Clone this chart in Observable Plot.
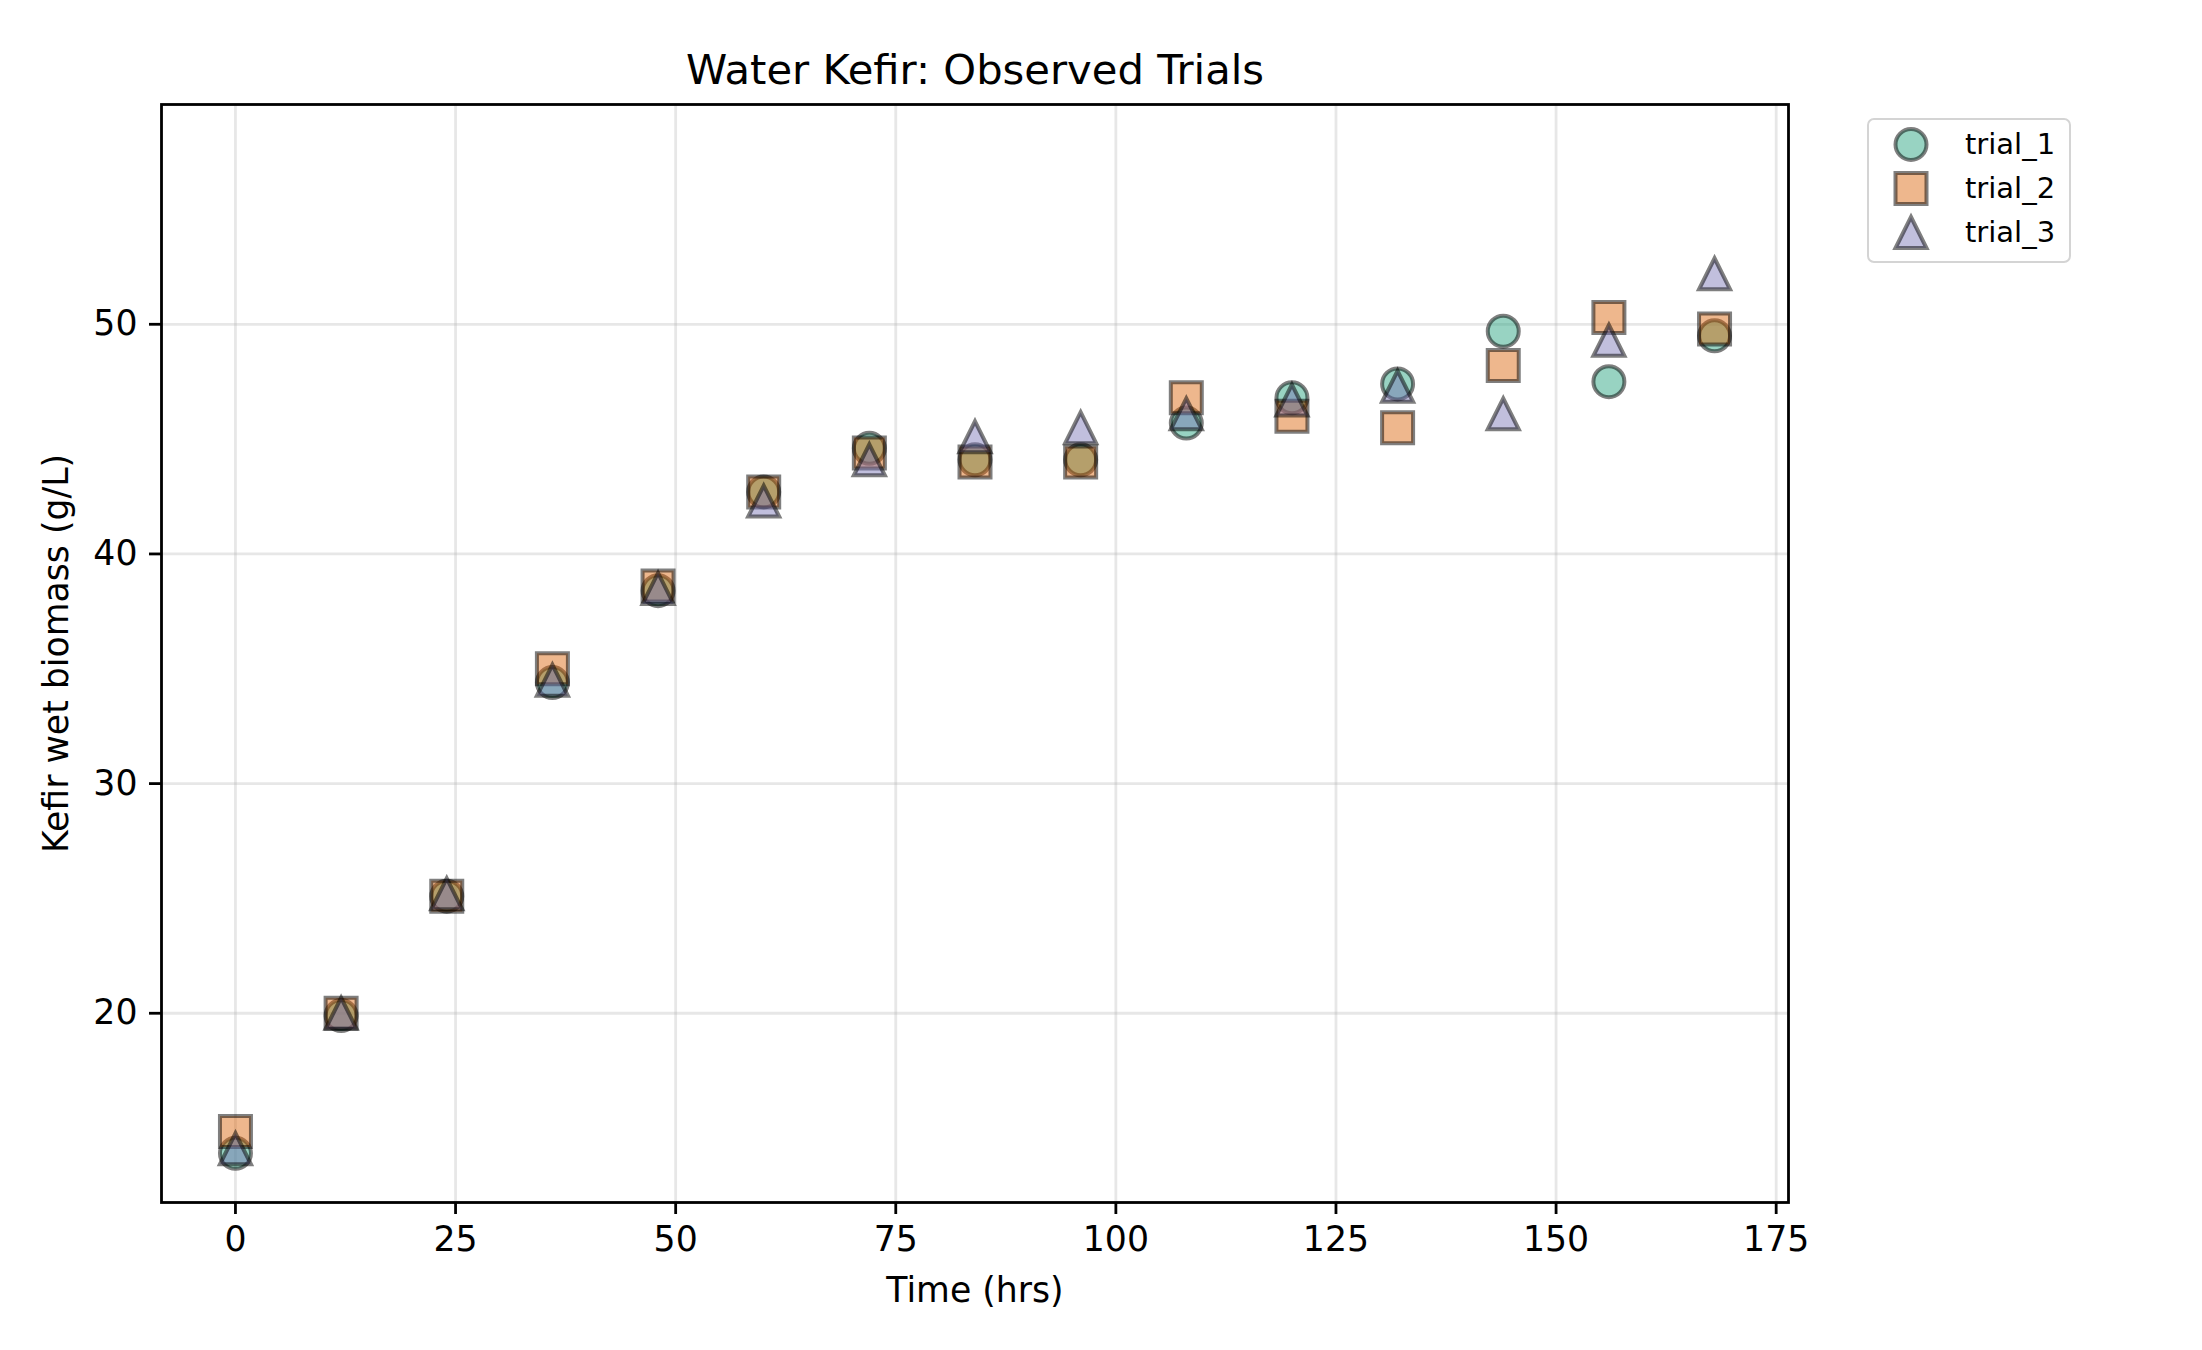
<!DOCTYPE html>
<html>
<head>
<meta charset="utf-8">
<script src="https://cdn.jsdelivr.net/npm/d3@7"></script>
<script src="https://cdn.jsdelivr.net/npm/@observablehq/plot@0.6"></script>
<style>
  html, body { margin: 0; padding: 0; background: #fff; }
  #wrap { position: relative; width: 2202px; height: 1350px; font-family: "DejaVu Sans", sans-serif; }
  #legend { position: absolute; left: 1867px; top: 118px; width: 204px; height: 145px; box-sizing: border-box;
            border: 2.5px solid #d4d4d4; border-radius: 7px; background: #fff; }
  svg { display: block; }
</style>
</head>
<body>
<div id="wrap"><div id="legend"></div></div>
<script>
// ---- data ----
const times = [0, 12, 24, 36, 48, 60, 72, 84, 96, 108, 120, 132, 144, 156, 168];
const trial1 = [13.9, 19.9, 25.1, 34.4, 38.4, 42.7, 44.6, 44.1, 44.1, 45.7, 46.8, 47.4, 49.7, 47.5, 49.5];
const trial2 = [14.85, 20.0, 25.1, 35.0, 38.6, 42.7, 44.4, 44.0, 44.0, 46.8, 46.0, 45.5, 48.2, 50.3, 49.8];
const trial3 = [14.1, 20.0, 25.2, 34.5, 38.5, 42.3, 44.1, 45.1, 45.5, 46.1, 46.7, 47.3, 46.1, 49.3, 52.2];
const seriesNames = ["trial_1", "trial_2", "trial_3"];
const seriesColors = ["#1b9e77", "#d95f02", "#7570b3"];
const xTicks = [0, 25, 50, 75, 100, 125, 150, 175];
const yTicks = [20, 30, 40, 50];
const titleText = "Water Kefir: Observed Trials";
const xLabel = "Time (hrs)";
const yLabel = "Kefir wet biomass (g/L)";

// matplotlib-like marker shapes
const squareSym = { draw(ctx, size) { const h = Math.sqrt(size / Math.PI); ctx.moveTo(-h, -h); ctx.lineTo(h, -h); ctx.lineTo(h, h); ctx.lineTo(-h, h); ctx.closePath(); } };
const triSym = { draw(ctx, size) { const h = Math.sqrt(size / Math.PI); ctx.moveTo(0, -h); ctx.lineTo(h, h); ctx.lineTo(-h, h); ctx.closePath(); } };
const seriesSymbols = ["circle", squareSym, triSym];

const seriesValues = [trial1, trial2, trial3];
const rows = seriesValues.map((vals, i) => times.map((t, j) => ({ t, v: vals[j], s: seriesNames[i] })));

const R = 15.5;
const markStyle = (i) => ({ r: R, symbol: seriesSymbols[i], fill: seriesColors[i], fillOpacity: 0.45, stroke: "#000", strokeOpacity: 0.5, strokeWidth: 4 });

const FS = 34.7;
const chart = Plot.plot({
  width: 2202,
  height: 1350,
  marginLeft: 161,
  marginRight: 414,
  marginTop: 104,
  marginBottom: 148,
  style: { fontFamily: "DejaVu Sans, sans-serif", fontSize: FS + "px", color: "#000", background: "transparent" },
  x: { domain: [-8.4, 176.4] },
  y: { domain: [11.76, 59.57] },
  marks: [
    Plot.gridX(xTicks, { stroke: "#b0b0b0", strokeOpacity: 0.3, strokeWidth: 2.8 }),
    Plot.gridY(yTicks, { stroke: "#b0b0b0", strokeOpacity: 0.3, strokeWidth: 2.8 }),
    ...rows.map((data, i) => Plot.dot(data, { x: "t", y: "v", ...markStyle(i) })),
    Plot.frame({ stroke: "#000", strokeWidth: 2.8 }),
    Plot.axisX(xTicks, { tickSize: 12, tickPadding: 12, strokeWidth: 2.8, label: null, fontSize: FS, tickFormat: d => String(d) }),
    Plot.axisY(yTicks, { anchor: "left", tickSize: 12, tickPadding: 12, strokeWidth: 2.8, label: null, fontSize: FS, tickFormat: d => String(d) }),
    Plot.text([titleText], { frameAnchor: "top", dy: -50, fontSize: 41.7, fill: "#000" }),
    Plot.text([xLabel], { frameAnchor: "bottom", dy: 99, fontSize: FS, fill: "#000" }),
    Plot.text([yLabel], { frameAnchor: "left", dx: -105, rotate: -90, textAnchor: "middle", fontSize: FS, fill: "#000" })
  ]
});
document.getElementById("wrap").prepend(chart);

// legend
const legend = Plot.plot({
  width: 199,
  height: 140,
  margin: 0,
  style: { fontFamily: "DejaVu Sans, sans-serif", color: "#000", background: "transparent" },
  y: { type: "point", domain: seriesNames, range: [23, 112], padding: 0, axis: null },
  marks: [
    ...seriesNames.map((name, i) => Plot.dot([name], { y: d => d, frameAnchor: "left", dx: 41.5, ...markStyle(i) })),
    Plot.text(seriesNames, { y: d => d, text: d => d, frameAnchor: "left", dx: 95.5, textAnchor: "start", fontSize: 29, fill: "#000" })
  ]
});
document.getElementById("legend").appendChild(legend);
</script>
</body>
</html>
